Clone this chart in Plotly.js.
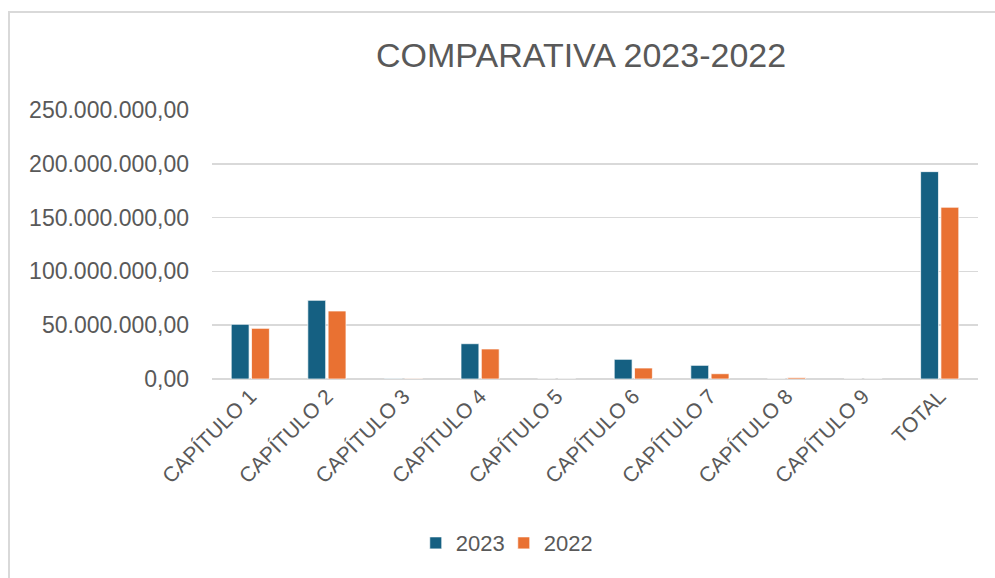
<!DOCTYPE html>
<html>
<head>
<meta charset="utf-8">
<script src="https://cdn.plot.ly/plotly-3.0.1.min.js"></script>
<style>
html,body{margin:0;padding:0;background:#fff;overflow:hidden;}
#wrap{position:relative;width:995px;height:578px;}
#chart{position:absolute;left:0;top:0;width:995px;height:578px;}
#frame{position:absolute;left:8px;top:11px;width:1100px;height:700px;border-left:2px solid #d9d9d9;border-top:2px solid #d9d9d9;pointer-events:none;}
</style>
</head>
<body>
<div id="wrap"><div id="chart"></div><div id="frame"></div></div>
<script>
const categories = ["CAPÍTULO 1","CAPÍTULO 2","CAPÍTULO 3","CAPÍTULO 4","CAPÍTULO 5","CAPÍTULO 6","CAPÍTULO 7","CAPÍTULO 8","CAPÍTULO 9","TOTAL"];
const values2023 = [50800000, 73100000, 300000, 32800000, 0, 18300000, 12700000, 0, 0, 192700000];
const values2022 = [47100000, 63200000, 250000, 27900000, 0, 10200000, 4900000, 1200000, 0, 159600000];
const yTicks = [0, 50000000, 100000000, 150000000, 200000000, 250000000];

const fontFam = "Liberation Sans, Arial, sans-serif";
const textColor = "#595959";

const traces = [
  {type:"bar", name:"2023", x:categories, y:values2023,
   marker:{color:"#156082", line:{color:"rgba(255,255,255,0.7)", width:1}}},
  {type:"bar", name:"2022", x:categories, y:values2022,
   marker:{color:"#E97132", line:{color:"rgba(255,255,255,0.7)", width:1}}}
];

const layout = {
  width:995, height:578,
  margin:{l:212, r:17, t:110, b:199},
  paper_bgcolor:"rgba(0,0,0,0)", plot_bgcolor:"#fff",
  separators:",.",
  barmode:"group", bargap:0.47, bargroupgap:0.12,
  font:{family:fontFam, color:textColor, size:21},
  title:{text:"COMPARATIVA 2023-2022", x:0.584, xanchor:"center", xref:"container",
         y:0.905, yanchor:"middle", yref:"container",
         font:{family:fontFam, size:34, color:textColor}},
  xaxis:{type:"category", tickangle:-45, showgrid:false, showline:false, zeroline:false,
         ticks:"", tickfont:{family:fontFam, size:21, color:textColor}, automargin:false},
  yaxis:{range:[0,250000000], tickvals:yTicks, tickformat:",.2f",
         showgrid:true, gridcolor:"#d9d9d9", gridwidth:1.5,
         zeroline:true, zerolinecolor:"#d9d9d9", zerolinewidth:1.5,
         showline:false, ticks:"", ticklabelstandoff:22,
         tickfont:{family:fontFam, size:23, color:textColor}, automargin:false, fixedrange:true},
  showlegend:true,
  legend:{orientation:"h", x:0.266, xanchor:"left", y:-0.61, yanchor:"middle",
          entrywidth:43, entrywidthmode:"pixels",
          font:{family:fontFam, size:22, color:textColor}, traceorder:"normal",
          bgcolor:"rgba(0,0,0,0)"}
};

Plotly.newPlot("chart", traces, layout, {staticPlot:true, displayModeBar:false});
</script>
</body>
</html>
